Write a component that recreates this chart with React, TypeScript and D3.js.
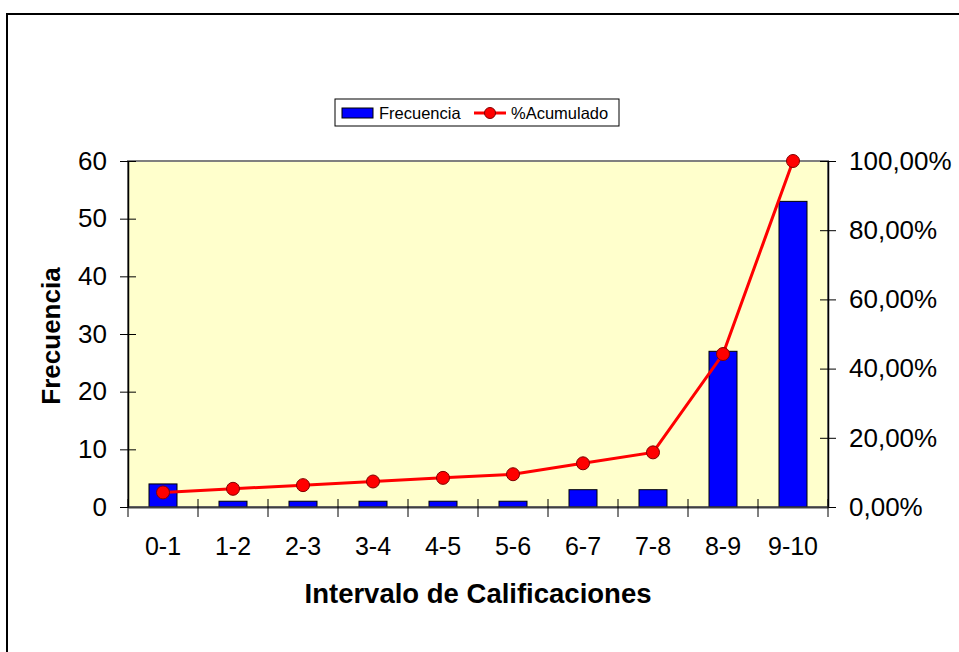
import React from "react";
import * as d3 from "d3";

const categories = ["0-1", "1-2", "2-3", "3-4", "4-5", "5-6", "6-7", "7-8", "8-9", "9-10"];
const frecuencia = [4, 1, 1, 1, 1, 1, 3, 3, 27, 53];
const acumulado = [4.21, 5.26, 6.32, 7.37, 8.42, 9.47, 12.63, 15.79, 44.21, 100];
const leftTicks = [0, 10, 20, 30, 40, 50, 60];
const rightTicks = [0, 20, 40, 60, 80, 100];

const App = () => {
  const svgRef = React.useRef<SVGSVGElement>(null);
  const width = 959;
  const height = 652;
  const plot = { left: 128, right: 828, top: 161, bottom: 507 };

  React.useEffect(() => {
    document.body.style.margin = "0";
    const svg = d3.select(svgRef.current);
    svg.selectAll("*").remove();
    const font = "Arial, 'Liberation Sans', sans-serif";

    // outer chart border
    svg
      .append("rect")
      .attr("x", 7)
      .attr("y", 14)
      .attr("width", width + 20)
      .attr("height", height + 20)
      .attr("fill", "white")
      .attr("stroke", "black")
      .attr("stroke-width", 2);

    const x = d3
      .scaleBand()
      .domain(categories)
      .range([plot.left, plot.right])
      .paddingInner(0.6)
      .paddingOuter(0.3);
    const xOuter = d3.scaleBand().domain(categories).range([plot.left, plot.right]);

    const yLeft = d3.scaleLinear().domain([0, 60]).range([plot.bottom, plot.top]);
    const yRight = d3.scaleLinear().domain([0, 100]).range([plot.bottom, plot.top]);

    // plot area
    svg
      .append("rect")
      .attr("x", plot.left)
      .attr("y", plot.top)
      .attr("width", plot.right - plot.left)
      .attr("height", plot.bottom - plot.top)
      .attr("fill", "#FFFFCC")
      .attr("stroke", "#808080")
      .attr("stroke-width", 2);

    // bars
    svg
      .append("g")
      .selectAll("rect")
      .data(frecuencia)
      .join("rect")
      .attr("x", (d, i) => x(categories[i])!)
      .attr("y", (d) => yLeft(d))
      .attr("width", x.bandwidth())
      .attr("height", (d) => plot.bottom - yLeft(d))
      .attr("fill", "#0000FF")
      .attr("stroke", "black")
      .attr("stroke-width", 1);

    // left axis
    const left = svg
      .append("g")
      .attr("transform", `translate(${plot.left},0)`)
      .call(d3.axisLeft(yLeft).tickValues(leftTicks).tickSizeInner(8).tickSizeOuter(0).tickPadding(13));
    left.selectAll("line").attr("x2", -8).attr("x1", 8).attr("stroke", "black");
    left.select(".domain").attr("stroke", "black").attr("stroke-width", 1.5);
    left.selectAll("text").attr("font-size", 26).attr("font-family", font).attr("fill", "black");

    // right axis
    const right = svg
      .append("g")
      .attr("transform", `translate(${plot.right},0)`)
      .call(
        d3
          .axisRight(yRight)
          .tickValues(rightTicks)
          .tickSizeInner(8)
          .tickSizeOuter(0)
          .tickPadding(13)
          .tickFormat((d) => d3.format(".2f")(+d).replace(".", ",") + "%")
      );
    right.selectAll("line").attr("x1", -8).attr("x2", 8).attr("stroke", "black");
    right.select(".domain").attr("stroke", "black").attr("stroke-width", 1.5);
    right.selectAll("text").attr("font-size", 26).attr("font-family", font).attr("fill", "black");

    // bottom axis
    const bottom = svg
      .append("g")
      .attr("transform", `translate(0,${plot.bottom})`)
      .call(d3.axisBottom(xOuter).tickSize(0).tickPadding(30));
    bottom.select(".domain").attr("stroke", "#404040").attr("stroke-width", 2);
    bottom.selectAll("text").attr("font-size", 25).attr("font-family", font).attr("fill", "black");
    bottom
      .selectAll(".sep")
      .data(d3.range(categories.length + 1))
      .join("line")
      .attr("x1", (i) => plot.left + i * xOuter.step())
      .attr("x2", (i) => plot.left + i * xOuter.step())
      .attr("y1", -8)
      .attr("y2", 10)
      .attr("stroke", "black");

    // cumulative line
    const line = d3
      .line<number>()
      .x((d, i) => xOuter(categories[i])! + xOuter.bandwidth() / 2)
      .y((d) => yRight(d));
    svg
      .append("path")
      .datum(acumulado)
      .attr("fill", "none")
      .attr("stroke", "#FF0000")
      .attr("stroke-width", 3)
      .attr("d", line);
    svg
      .append("g")
      .selectAll("circle")
      .data(acumulado)
      .join("circle")
      .attr("cx", (d, i) => xOuter(categories[i])! + xOuter.bandwidth() / 2)
      .attr("cy", (d) => yRight(d))
      .attr("r", 6.5)
      .attr("fill", "#FF0000")
      .attr("stroke", "#800000")
      .attr("stroke-width", 1);

    // axis titles
    svg
      .append("text")
      .attr("transform", `translate(60,${(plot.top + plot.bottom) / 2 + 2}) rotate(-90)`)
      .attr("text-anchor", "middle")
      .attr("font-family", font)
      .attr("font-weight", "bold")
      .attr("font-size", 26)
      .text("Frecuencia");
    svg
      .append("text")
      .attr("x", 478)
      .attr("y", 603)
      .attr("text-anchor", "middle")
      .attr("font-family", font)
      .attr("font-weight", "bold")
      .attr("font-size", 27.5)
      .text("Intervalo de Calificaciones");

    // legend
    const lg = svg.append("g").attr("transform", "translate(335,99)");
    lg.append("rect").attr("width", 284).attr("height", 27).attr("fill", "white").attr("stroke", "black").attr("stroke-width", 1);
    lg.append("rect").attr("x", 7).attr("y", 9).attr("width", 31).attr("height", 10).attr("fill", "#0000FF").attr("stroke", "black");
    lg.append("text").attr("x", 44).attr("y", 19.5).attr("font-family", font).attr("font-size", 16.5).text("Frecuencia");
    lg.append("line").attr("x1", 139).attr("x2", 171).attr("y1", 14).attr("y2", 14).attr("stroke", "#FF0000").attr("stroke-width", 3);
    lg.append("circle").attr("cx", 155).attr("cy", 14).attr("r", 5.5).attr("fill", "#FF0000").attr("stroke", "#800000");
    lg.append("text").attr("x", 176).attr("y", 19.5).attr("font-family", font).attr("font-size", 16.5).text("%Acumulado");
  }, []);

  return <svg ref={svgRef} width={width} height={height} style={{ display: "block" }} />;
};

export default App;
